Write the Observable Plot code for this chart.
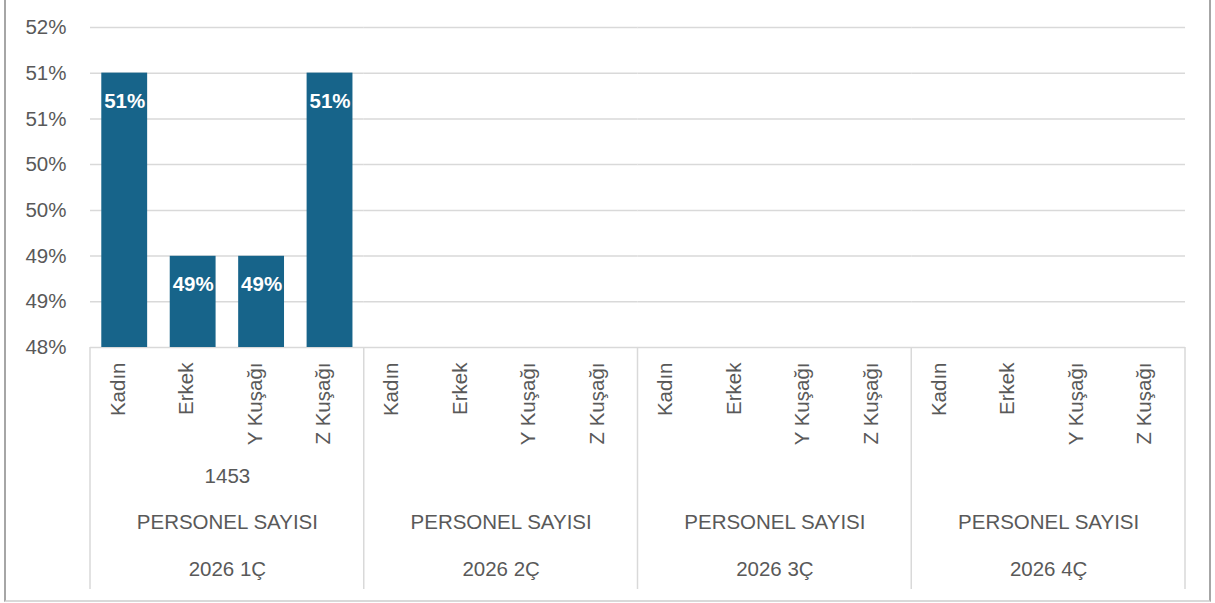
<!DOCTYPE html>
<html>
<head>
<meta charset="utf-8">
<script src="https://cdn.jsdelivr.net/npm/d3@7"></script>
<script src="https://cdn.jsdelivr.net/npm/@observablehq/plot@0.6"></script>
<style>
  html, body { margin: 0; padding: 0; background: #ffffff; }
  #wrap { position: relative; width: 1215px; height: 603px; overflow: hidden; }
  #border { position: absolute; left: 4px; top: -4px; width: 1207px; height: 606px;
            border-left: 2px solid #a6a6a6; border-right: 2px solid #a6a6a6; border-bottom: 2px solid #d9d9d9; box-sizing: border-box; }
  #chart { position: absolute; left: 0; top: 0; }
</style>
</head>
<body>
<div id="wrap"><div id="border"></div><div id="chart"></div></div>
<script>
// ---- data ----
const quarters = ["2026 1Ç", "2026 2Ç", "2026 3Ç", "2026 4Ç"];
const subcats = ["Kadın", "Erkek", "Y Kuşağı", "Z Kuşağı"];
const groupLabel = "PERSONEL SAYISI";
const q1Values = [0.5143, 0.4914, 0.4914, 0.5143];
const totals = [{quarter: "2026 1Ç", total: "1453"}];
const yTicks = [0.48, 0.48571, 0.49143, 0.49714, 0.50286, 0.50857, 0.51429, 0.52];

// ---- tables ----
const bars = subcats.map((c, i) => ({quarter: quarters[0], cat: c, value: q1Values[i]}));
const catLabels = quarters.flatMap(q => subcats.map(c => ({quarter: q, cat: c})));

const FONT = "'Liberation Sans', Arial, sans-serif";
const TXT = "#595959";
const GRID = "#d9d9d9";
const BAR = "#17648a";
const FS = 20.5;
const pct = d3.format(".0%");

const plot = Plot.plot({
  width: 1215,
  height: 603,
  marginLeft: 90,
  marginRight: 30,
  marginTop: 27,
  marginBottom: 256,
  style: {fontFamily: FONT, fontSize: FS + "px", background: "transparent", overflow: "visible"},
  fx: {domain: quarters, axis: null, padding: 0, round: false},
  x: {domain: subcats, axis: null, paddingInner: 0.33, paddingOuter: 0.165, round: false},
  y: {domain: [0.48, 0.52], axis: null},
  marks: [
    Plot.gridY(yTicks, {stroke: GRID, strokeOpacity: 1, strokeWidth: 1.5}),
    Plot.axisY(yTicks, {tickFormat: pct, tickSize: 0, tickPadding: 24, fill: TXT, fontSize: FS, label: null}),
    Plot.barY(bars, {fx: "quarter", x: "cat", y1: 0.48, y2: "value", fill: BAR}),
    Plot.text(bars, {fx: "quarter", x: "cat", y: "value", text: d => pct(d.value), dy: 28,
                     fill: "white", fontWeight: "bold", fontSize: FS}),
    Plot.text(catLabels, {fx: "quarter", x: "cat", text: "cat", rotate: -90, textAnchor: "end",
                          frameAnchor: "bottom", dy: 15, fill: TXT, fontSize: FS}),
    Plot.text(totals, {fx: "quarter", text: "total", frameAnchor: "bottom", dy: 135, fill: TXT, fontSize: FS}),
    Plot.text(quarters, {fx: d => d, text: () => groupLabel, frameAnchor: "bottom", dy: 181, fill: TXT, fontSize: FS}),
    Plot.text(quarters, {fx: d => d, text: d => d, frameAnchor: "bottom", dy: 228, fill: TXT, fontSize: FS})
  ]
});

// group separators of the multi-level category axis, from the plot's own scales
const fxs = plot.scale("fx");
const ys = plot.scale("y");
const yTop = ys.apply(0.48);
const yBottom = yTop + 242;
const edges = quarters.map(q => fxs.apply(q));
edges.push(fxs.apply(quarters[quarters.length - 1]) + fxs.bandwidth);
d3.select(plot).append("g")
  .selectAll("line").data(edges).join("line")
  .attr("x1", d => d).attr("x2", d => d)
  .attr("y1", yTop).attr("y2", yBottom)
  .attr("stroke", GRID).attr("stroke-width", 1.5);

document.getElementById("chart").appendChild(plot);
</script>
</body>
</html>
